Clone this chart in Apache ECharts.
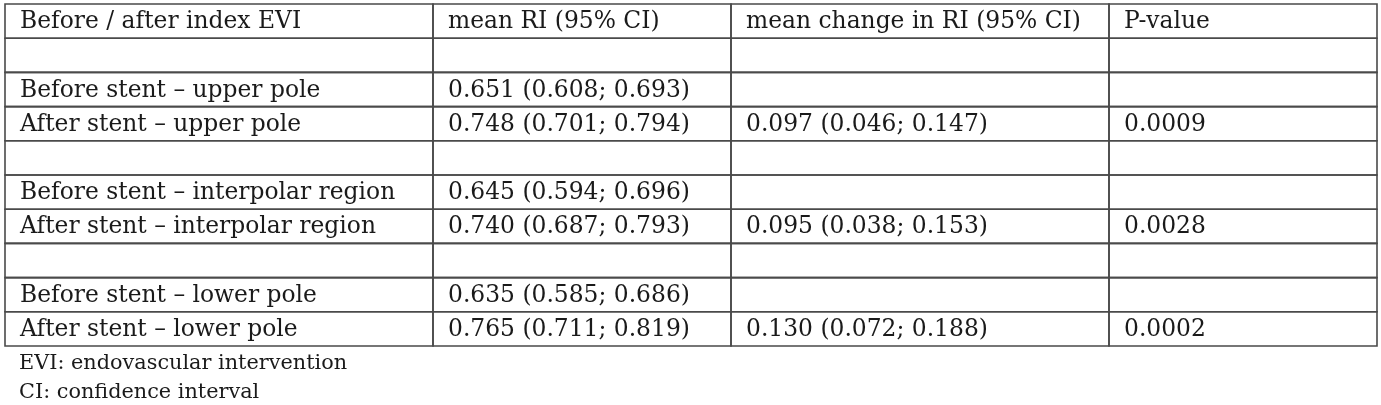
<!DOCTYPE html>
<html><head><meta charset="utf-8">
<script src="https://cdn.jsdelivr.net/npm/echarts@6/dist/echarts.min.js"></script>
<style>html,body{margin:0;padding:0;background:#fff}#c{width:1381px;height:405px}</style>
</head><body><div id="c"></div>
<script>
const headers = ["Before / after index EVI", "mean RI (95% CI)", "mean change in RI (95% CI)", "P-value"];
const rowLabels = ["", "Before stent \u2013 upper pole", "After stent \u2013 upper pole", "", "Before stent \u2013 interpolar region", "After stent \u2013 interpolar region", "", "Before stent \u2013 lower pole", "After stent \u2013 lower pole"];
const meanRI = ["", "0.651 (0.608; 0.693)", "0.748 (0.701; 0.794)", "", "0.645 (0.594; 0.696)", "0.740 (0.687; 0.793)", "", "0.635 (0.585; 0.686)", "0.765 (0.711; 0.819)"];
const meanChange = ["", "", "0.097 (0.046; 0.147)", "", "", "0.095 (0.038; 0.153)", "", "", "0.130 (0.072; 0.188)"];
const pValues = ["", "", "0.0009", "", "", "0.0028", "", "", "0.0002"];
const footnotes = ["EVI: endovascular intervention", "CI: confidence interval"];

const FONT = "DejaVu Serif";
const FS = 23.4;
const FS_NOTE = 20.8;
const colEdges = [0, 428, 726, 1104, 1372];
const columns = [rowLabels, meanRI, meanChange, pValues];
const nRows = rowLabels.length + 1;
const rowCats = [];
for (let i = 0; i < nRows; i++) rowCats.push('r' + i);

const cells = [];
for (let c = 0; c < 4; c++) {
  cells.push([c, 0, headers[c]]);
  for (let r = 0; r < rowLabels.length; r++) cells.push([c, r + 1, columns[c][r]]);
}

const chart = echarts.init(document.getElementById('c'), null, {renderer: 'canvas'});
chart.setOption({
  animation: false,
  backgroundColor: '#fff',
  grid: {left: 5, right: 4, top: 4, height: 342},
  xAxis: {type: 'value', min: 0, max: 1372, show: false},
  yAxis: {type: 'category', data: rowCats, inverse: true, show: false},
  series: [{
    type: 'custom',
    data: cells,
    encode: {x: 0, y: 1},
    renderItem: function (params, api) {
      const c = api.value(0), r = api.value(1);
      const p0 = api.coord([colEdges[c], r]);
      const p1 = api.coord([colEdges[c + 1], r]);
      const h = api.size([0, 1])[1];
      const txt = cells[params.dataIndex][2];
      return {
        type: 'group',
        children: [{
          type: 'rect',
          shape: {x: p0[0], y: p0[1] - h / 2, width: p1[0] - p0[0], height: h},
          style: {fill: 'none', stroke: '#4a4a4a', lineWidth: 1.6}
        }, {
          type: 'text',
          x: p0[0] + 15, y: p0[1] + 1,
          style: {text: txt, fill: '#1a1a1a', font: FS + 'px "' + FONT + '"', verticalAlign: 'middle', align: 'left'}
        }]
      };
    }
  }],
  graphic: footnotes.map(function (t, i) {
    return {type: 'text', x: 19, y: 364 + i * 29, style: {text: t, fill: '#1a1a1a', font: FS_NOTE + 'px "' + FONT + '"', verticalAlign: 'middle', align: 'left'}};
  })
});
</script></body></html>
